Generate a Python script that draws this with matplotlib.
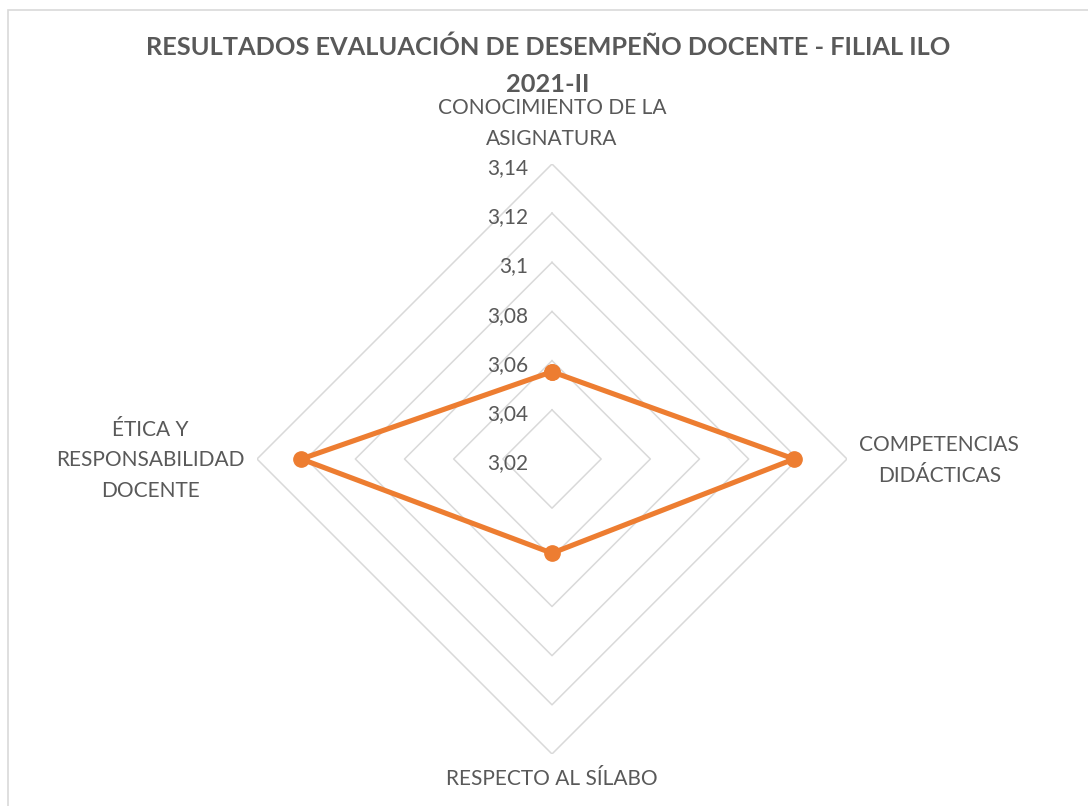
import numpy as np
import matplotlib
matplotlib.use("Agg")
import matplotlib.pyplot as plt
from matplotlib.patches import Rectangle

plt.rcParams['font.family'] = ['Lato', 'DejaVu Sans']

# data
categories = ['CONOCIMIENTO DE LA\nASIGNATURA', 'COMPETENCIAS\nDIDÁCTICAS',
              'RESPECTO AL SÍLABO', 'ÉTICA Y\nRESPONSABILIDAD\nDOCENTE']
values = [3.0555, 3.1185, 3.0583, 3.122]
ring_levels = [3.04, 3.06, 3.08, 3.10, 3.12, 3.14]
tick_values = [3.02, 3.04, 3.06, 3.08, 3.10, 3.12, 3.14]
tick_labels = ['3,02', '3,04', '3,06', '3,08', '3,1', '3,12', '3,14']
title = 'RESULTADOS EVALUACIÓN DE DESEMPEÑO DOCENTE - FILIAL ILO\n2021-II'

text_col = '#595959'
grid_col = '#d9d9d9'
line_col = '#ed7d31'

W, H = 1088, 806
fig = plt.figure(figsize=(W / 100, H / 100), dpi=100)
fig.patch.set_facecolor('white')

# chart border (right/bottom edges are cut off in the original)
fig.patches.append(Rectangle((8 / W, -0.05), 1.2, 1 - 10 / H + 0.05, transform=fig.transFigure,
                             fill=False, edgecolor='#d9d9d9', linewidth=1.2))

cx, cy, rad = 552, 459, 295
ax = fig.add_axes([(cx - rad) / W, (H - cy - rad) / H, 2 * rad / W, 2 * rad / H], projection='polar')
ax.set_theta_offset(np.pi / 2)
ax.set_theta_direction(-1)
ax.set_rlim(3.02, 3.14)
ax.grid(False)
ax.set_xticks([])
ax.set_yticks([])
ax.spines['polar'].set_visible(False)
ax.patch.set_alpha(0)

angles = np.linspace(0, 2 * np.pi, len(categories), endpoint=False)
closed = np.concatenate([angles, angles[:1]])

for lv in ring_levels:
    ax.plot(closed, [lv] * len(closed), color=grid_col, lw=1.1, zorder=1)

vals = values + values[:1]
ax.plot(closed, vals, color=line_col, lw=3.7, zorder=3, solid_joinstyle='round',
        marker='o', markersize=11, markerfacecolor=line_col, markeredgecolor=line_col)

for v, lab in zip(tick_values, tick_labels):
    ax.annotate(lab, xy=(0, v), xytext=(-17, -3), textcoords='offset points',
                ha='right', va='center', fontsize=15, color=text_col)

# category labels around the chart
label_pos = [(0, 3.14, 0, 11, 'center', 'bottom'),
             (angles[1], 3.14, 9, -1, 'left', 'center'),
             (angles[2], 3.14, 0, -11, 'center', 'top'),
             (angles[3], 3.14, -9, -1, 'right', 'center')]
for cat, (th, r, dx, dy, ha, va) in zip(categories, label_pos):
    ax.annotate(cat, xy=(th, r), xytext=(dx, dy), textcoords='offset points',
                ha=ha, va=va, fontsize=15, color=text_col, linespacing=1.65,
                multialignment='center')

fig.text(548 / W, 1 - 66 / H, title, ha='center', va='center', fontsize=18.3,
         fontweight='bold', color=text_col, linespacing=1.75)

fig.savefig('out.png', dpi=100, facecolor='white')
